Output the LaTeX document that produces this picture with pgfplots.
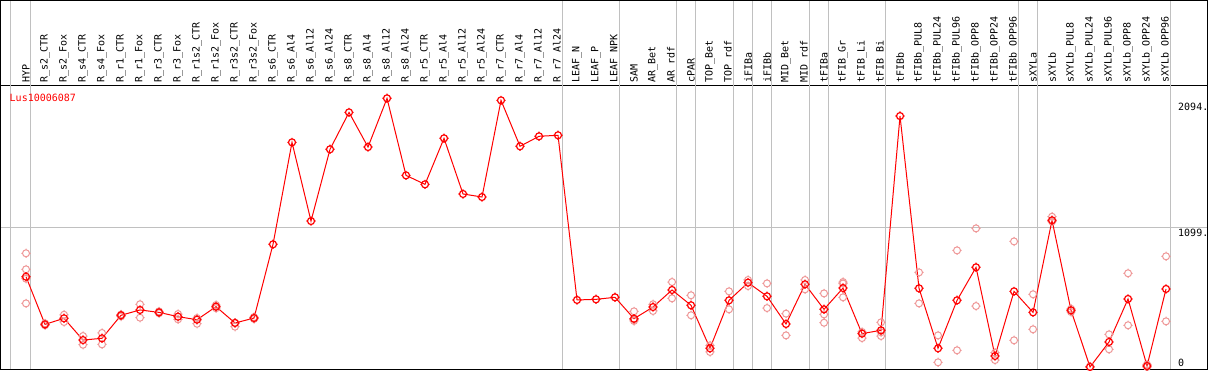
\documentclass[border=0pt]{standalone}
\usepackage{fontspec}
\setmainfont{DejaVu Sans Mono}
\setmonofont{DejaVu Sans Mono}
\usepackage{pgfplots}
\pgfplotsset{compat=1.18}
\definecolor{gridgray}{RGB}{192,192,192}
\definecolor{pale}{RGB}{238,150,150}
\pgfdeclareplotmark{tcirc}{%
  \pgfpathcircle{\pgfpoint{0pt}{0pt}}{3.5pt}%
  \pgfpathmoveto{\pgfpoint{0pt}{3.5pt}}\pgfpathlineto{\pgfpoint{0pt}{4.6pt}}%
  \pgfpathmoveto{\pgfpoint{0pt}{-3.5pt}}\pgfpathlineto{\pgfpoint{0pt}{-4.6pt}}%
  \pgfpathmoveto{\pgfpoint{3.5pt}{0pt}}\pgfpathlineto{\pgfpoint{4.6pt}{0pt}}%
  \pgfpathmoveto{\pgfpoint{-3.5pt}{0pt}}\pgfpathlineto{\pgfpoint{-4.6pt}{0pt}}%
  \pgfusepathqstroke}
\pgfplotstableread{
x y
0 714
1 337
2 385
3 213
4 227
5 409
6 451
7 432
8 398
9 374
10 477
11 348
12 387
13 970
14 1776
15 1154
16 1721
17 2013
18 1739
19 2124
20 1515
21 1444
22 1808
23 1368
24 1344
25 2108
26 1745
27 1824
28 1832
29 530
30 535
31 551
32 382
33 474
34 609
35 488
36 148
37 527
38 667
39 559
40 340
41 654
42 456
43 624
44 264
45 290
46 1984
47 622
48 148
49 527
50 788
51 87
52 598
53 432
54 1160
55 448
56 0
57 198
58 538
59 8
60 617
}\meantable
\pgfplotstableread{
x y
0 899
0 772
0 698
0 503
1 345
1 330
2 413
2 356
3 245
3 176
4 269
4 179
5 415
5 400
6 496
6 390
7 440
7 425
8 419
8 377
9 387
9 342
10 490
10 465
11 350
11 319
12 395
12 380
32 440
32 364
32 375
33 496
33 443
34 672
34 543
35 567
35 409
36 171
36 119
37 598
37 456
38 688
38 640
39 661
39 466
40 422
40 250
41 688
41 614
42 582
42 416
42 350
43 672
43 551
43 660
44 277
44 229
45 353
45 245
45 275
47 748
47 503
48 250
48 37
49 922
49 132
50 1096
50 482
51 113
51 55
52 993
52 211
53 575
53 298
54 1188
54 1150
55 460
55 435
56 5
57 258
57 140
58 741
58 330
59 20
59 0
60 875
60 361
}\reptable
\begin{document}
\begin{tikzpicture}[x=1pt,y=1pt]
\begin{axis}[
  at={(0,0)}, anchor=south west,
  scale only axis, width=1206pt, height=283pt,
  xmin=-1.316, xmax=62.158, ymin=-15.8, ymax=2221.6,
  axis line style={black, line width=1pt},
  xtick={0,...,60},
  xticklabels={HYP,R\_s2\_CTR,R\_s2\_Fox,R\_s4\_CTR,R\_s4\_Fox,R\_r1\_CTR,R\_r1\_Fox,R\_r3\_CTR,R\_r3\_Fox,R\_r1s2\_CTR,R\_r1s2\_Fox,R\_r3s2\_CTR,R\_r3s2\_Fox,R\_s6\_CTR,R\_s6\_Al4,R\_s6\_Al12,R\_s6\_Al24,R\_s8\_CTR,R\_s8\_Al4,R\_s8\_Al12,R\_s8\_Al24,R\_r5\_CTR,R\_r5\_Al4,R\_r5\_Al12,R\_r5\_Al24,R\_r7\_CTR,R\_r7\_Al4,R\_r7\_Al12,R\_r7\_Al24,LEAF\_N,LEAF\_P,LEAF\_NPK,SAM,AR\_Bet,AR\_rdf,cPAR,TOP\_Bet,TOP\_rdf,iFIBa,iFIBb,MID\_Bet,MID\_rdf,tFIBa,tFIB\_Gr,tFIB\_Li,tFIB\_Bi,tFIBb,tFIBb\_PUL8,tFIBb\_PUL24,tFIBb\_PUL96,tFIBb\_OPP8,tFIBb\_OPP24,tFIBb\_OPP96,sXYLa,sXYLb,sXYLb\_PUL8,sXYLb\_PUL24,sXYLb\_PUL96,sXYLb\_OPP8,sXYLb\_OPP24,sXYLb\_OPP96},
  xticklabel pos=upper,
  xticklabel style={font=\fontsize{10}{10}\selectfont, rotate=90, anchor=west, inner sep=0pt, inner xsep=3pt},
  major tick length=0pt,
  ytick=\empty,
  clip=false,
]
\pgfplotsinvokeforeach{-0.79,0.237,28.237,31.237,34.237,35.237,37.237,38.237,39.237,41.237,42.237,45.237,52.237,53.237,60.237}{
  \draw[gridgray, line width=1pt] (axis cs:#1,-15.8) -- (axis cs:#1,2901.5);
}
\draw[gridgray, line width=1pt] (axis cs:-1.316,1099) -- (axis cs:62.158,1099);
\draw[black, line width=1pt] (axis cs:-1.316,2221.6) -- (axis cs:-1.316,2897.5) -- (axis cs:62.158,2897.5) -- (axis cs:62.158,2221.6);
\node[anchor=base west, text=red, inner sep=0pt, font=\fontsize{10}{10}\selectfont] at (axis cs:-0.868,2103) {Lus10006087};
\node[anchor=north west, inner sep=0pt, font=\fontsize{10}{10}\selectfont] at (axis cs:60.63,2085) {2094.};
\node[anchor=north west, inner sep=0pt, font=\fontsize{10}{10}\selectfont] at (axis cs:60.63,1091) {1099.};
\node[anchor=north west, inner sep=0pt, font=\fontsize{10}{10}\selectfont] at (axis cs:60.63,63) {0};
\addplot[only marks, mark=tcirc, color=pale, mark options={line width=1pt}] table[x=x,y=y] {\reptable};
\addplot[red, line width=1pt, mark=tcirc, mark options={red, line width=1.2pt}] table[x=x,y=y] {\meantable};
\end{axis}
\pgfresetboundingbox
\path[use as bounding box] (-1,-1) rectangle (1208,369);
\end{tikzpicture}
\end{document}
